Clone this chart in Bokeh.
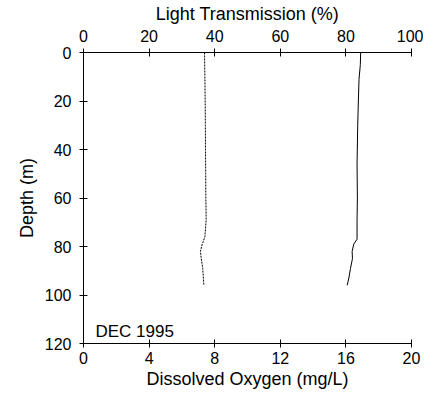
from bokeh.plotting import figure
from bokeh.models import Range1d, LinearAxis, Label, FixedTicker
from bokeh.embed import file_html
from bokeh.resources import INLINE

# Dissolved oxygen profile (dotted line), mg/L vs depth (m)
do_depth = [0, 10, 20, 30, 40, 50, 60, 69, 76, 78, 79, 82, 85, 89, 93, 96]
do_vals = [7.38, 7.40, 7.42, 7.43, 7.44, 7.45, 7.46, 7.48, 7.40, 7.30, 7.24, 7.13, 7.18, 7.27, 7.31, 7.34]

# Light transmission profile (solid line), % vs depth (m)
lt_depth = [0, 5, 11, 20, 30, 46, 60, 69, 77, 79, 82, 85, 89, 93, 96]
lt_vals = [84.5, 84.4, 84.0, 83.8, 83.6, 83.4, 83.5, 83.4, 83.4, 82.4, 81.9, 82.0, 81.4, 80.9, 80.4]

do_ticks = [0, 4, 8, 12, 16, 20]
lt_ticks = [0, 20, 40, 60, 80, 100]
depth_ticks = [0, 20, 40, 60, 80, 100, 120]
label_text = "DEC 1995"

FONT = "Liberation Sans"

p = figure(
    frame_width=328, frame_height=291,
    x_range=Range1d(0, 20), y_range=Range1d(120, 0),
    output_backend="svg", toolbar_location=None,
    min_border_left=83, min_border_top=46, min_border_bottom=50, min_border_right=12,
    x_axis_location=None,
)
p.extra_x_ranges = {"lt": Range1d(0, 100)}
p.outline_line_color = None
p.xgrid.visible = False
p.ygrid.visible = False
p.background_fill_color = "white"
p.border_fill_color = "white"


def style(ax):
    ax.axis_line_color = "black"
    ax.axis_line_width = 1
    ax.major_tick_in = 4
    ax.major_tick_out = 4
    ax.minor_tick_line_color = None
    ax.major_tick_line_color = "black"
    ax.major_label_text_font = FONT
    ax.major_label_text_font_size = "16px"
    ax.major_label_text_color = "black"
    ax.axis_label_text_font = FONT
    ax.axis_label_text_font_size = "18px"
    ax.axis_label_text_font_style = "normal"
    ax.axis_label_text_color = "black"


bottom = LinearAxis(axis_label="Dissolved Oxygen (mg/L)", ticker=FixedTicker(ticks=do_ticks))
style(bottom)
bottom.major_label_standoff = 4
bottom.axis_label_standoff = 2
p.add_layout(bottom, "below")

top = LinearAxis(x_range_name="lt", axis_label="Light Transmission (%)", ticker=FixedTicker(ticks=lt_ticks))
style(top)
top.major_label_standoff = 7
top.axis_label_standoff = 3
p.add_layout(top, "above")

left = p.yaxis[0]
left.ticker = FixedTicker(ticks=depth_ticks)
left.axis_label = "Depth (m)"
style(left)
left.major_label_standoff = 8
left.axis_label_standoff = 5

p.line(do_vals, do_depth, line_color="black", line_width=1, line_dash="2 1")
p.line(lt_vals, lt_depth, x_range_name="lt", line_color="black", line_width=1)

lab = Label(x=12, y=3, x_units="screen", y_units="screen", text=label_text,
            text_font=FONT, text_font_size="17px", text_color="black")
p.add_layout(lab)

open("out.html", "w").write(file_html(p, INLINE))
